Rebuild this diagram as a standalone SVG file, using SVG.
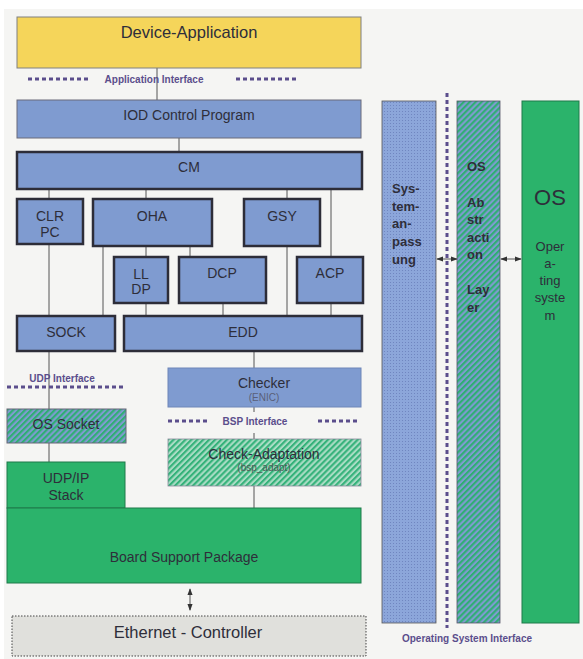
<svg xmlns="http://www.w3.org/2000/svg" width="583" height="659" viewBox="0 0 583 659">
<defs>
<pattern id="hatchBlue" patternUnits="userSpaceOnUse" width="4.2" height="4.2" patternTransform="rotate(45)">
<rect width="4.2" height="4.2" fill="#7f9bd0"/>
<rect width="2.1" height="4.2" fill="#2fae73"/>
</pattern>
<pattern id="hatchLight" patternUnits="userSpaceOnUse" width="4.2" height="4.2" patternTransform="rotate(45)">
<rect width="4.2" height="4.2" fill="#a9dcc4"/>
<rect width="2.1" height="4.2" fill="#35b27a"/>
</pattern>
<pattern id="dotsBlue" patternUnits="userSpaceOnUse" width="3" height="3">
<rect width="3" height="3" fill="#8ca6da"/>
<rect width="1" height="1" fill="#7086c0"/>
</pattern>
<marker id="ah" viewBox="0 0 8 8" refX="7" refY="4" markerWidth="7" markerHeight="7" orient="auto-start-reverse" markerUnits="userSpaceOnUse">
<path d="M0,1 L8,4 L0,7 z" fill="#333"/>
</marker>
</defs>
<style>
text{font-family:"Liberation Sans",Arial,sans-serif;fill:#2e2e3a;text-anchor:middle}
.blue{fill:#7f9bd0}
.thick{fill:#7f9bd0;stroke:#2d2d38;stroke-width:2.5}
.green{fill:#2bb36b;stroke:#1e7a4a;stroke-width:1}
.conn line{stroke:#555;stroke-width:1}
.ifc{stroke:#5b4e8c;stroke-width:3;stroke-dasharray:4 3;fill:none}
.ifl{font-size:10px;font-weight:bold;fill:#5b4e8c}
.t14{font-size:14px}
.side{font-size:13px;font-weight:bold;text-anchor:start}
.arr{stroke:#333;stroke-width:1.3;marker-start:url(#ah);marker-end:url(#ah)}
</style>
<rect width="583" height="659" fill="#ffffff"/>
<rect x="4" y="9" width="579" height="650" fill="#f5f5f3"/>

<g class="conn">
<line x1="157" y1="68" x2="157" y2="100"/>
<line x1="179" y1="138" x2="179" y2="152"/>
<line x1="49" y1="189" x2="49" y2="199"/>
<line x1="146" y1="189" x2="146" y2="199"/>
<line x1="287" y1="189" x2="287" y2="199"/>
<line x1="331" y1="189" x2="331" y2="257"/>
<line x1="49" y1="244" x2="49" y2="316"/>
<line x1="103" y1="246" x2="103" y2="316"/>
<line x1="146" y1="246" x2="146" y2="257"/>
<line x1="190" y1="246" x2="190" y2="257"/>
<line x1="146" y1="303" x2="146" y2="316"/>
<line x1="223" y1="303" x2="223" y2="316"/>
<line x1="287" y1="246" x2="287" y2="316"/>
<line x1="331" y1="303" x2="331" y2="316"/>
<line x1="49" y1="351" x2="49" y2="409"/>
<line x1="49" y1="443" x2="49" y2="462"/>
<line x1="254" y1="351" x2="254" y2="368"/>
<line x1="254" y1="407" x2="254" y2="412"/>
<line x1="254" y1="433" x2="254" y2="439"/>
<line x1="254" y1="486" x2="254" y2="508"/>
<line class="arr" x1="190" y1="589" x2="190" y2="610"/>
<line class="arr" x1="437" y1="259" x2="457" y2="259"/>
<line class="arr" x1="501" y1="259" x2="521" y2="259"/>
</g>

<g id="device-application">
<rect x="17" y="17" width="344" height="51" fill="#f5d55a" stroke="#808080" stroke-width="1"/>
<text x="189" y="38" font-size="16.5">Device-Application</text>
</g>

<g id="application-interface">
<line class="ifc" x1="28" y1="79" x2="90" y2="79"/>
<line class="ifc" x1="236" y1="79" x2="298" y2="79"/>
<text class="ifl" x="154" y="83">Application Interface</text>
</g>

<g id="iod-control-program">
<rect x="17" y="100" width="344" height="38" class="blue" stroke="#6a6a7a" stroke-width="1"/>
<text x="189" y="120" class="t14">IOD Control Program</text>
</g>

<g id="cm">
<rect x="17" y="152" width="345" height="37" class="thick"/>
<text x="189" y="172" class="t14">CM</text>
</g>

<g id="clr-pc">
<rect x="17" y="199" width="66" height="45" class="thick"/>
<text x="50" y="221" class="t14">CLR</text>
<text x="50" y="237" class="t14">PC</text>
</g>

<g id="oha">
<rect x="93" y="199" width="119" height="47" class="thick"/>
<text x="152" y="221" class="t14">OHA</text>
</g>

<g id="gsy">
<rect x="244" y="199" width="76" height="47" class="thick"/>
<text x="282" y="221" class="t14">GSY</text>
</g>

<g id="lldp">
<rect x="114" y="257" width="54" height="46" class="thick"/>
<text x="141" y="279" class="t14">LL</text>
<text x="141" y="294" class="t14">DP</text>
</g>

<g id="dcp">
<rect x="179" y="257" width="87" height="46" class="thick"/>
<text x="222" y="278" class="t14">DCP</text>
</g>

<g id="acp">
<rect x="297" y="257" width="66" height="46" class="thick"/>
<text x="330" y="278" class="t14">ACP</text>
</g>

<g id="sock">
<rect x="17" y="316" width="98" height="35" class="thick"/>
<text x="66" y="337" class="t14">SOCK</text>
</g>

<g id="edd">
<rect x="124" y="316" width="238" height="35" class="thick"/>
<text x="243" y="337" class="t14">EDD</text>
</g>

<g id="udp-interface">
<text class="ifl" x="62" y="382">UDP Interface</text>
<line class="ifc" x1="7" y1="387" x2="126" y2="387"/>
</g>

<g id="checker">
<rect x="168" y="368" width="193" height="39" class="blue" stroke="#6f86b8" stroke-width="1"/>
<text x="264" y="388" font-size="14">Checker</text>
<text x="264" y="401" font-size="10" style="fill:#5a5f78">(ENIC)</text>
</g>

<g id="bsp-interface">
<line class="ifc" x1="168" y1="421" x2="210" y2="421"/>
<line class="ifc" x1="318" y1="421" x2="360" y2="421"/>
<text class="ifl" x="255" y="425">BSP Interface</text>
</g>

<g id="os-socket">
<rect x="7" y="409" width="119" height="34" fill="url(#hatchBlue)" stroke="#667" stroke-width="1"/>
<text x="66" y="429" class="t14">OS Socket</text>
</g>

<g id="check-adaptation">
<rect x="168" y="439" width="193" height="47" fill="url(#hatchLight)" stroke="#889" stroke-width="0.8"/>
<text x="264" y="459" class="t14">Check-Adaptation</text>
<text x="264" y="471" font-size="10" style="fill:#4a5a55">(bsp_adapt)</text>
</g>

<g id="udp-ip-stack">
<rect x="7" y="462" width="118" height="46" class="green"/>
<text x="66" y="483" class="t14">UDP/IP</text>
<text x="66" y="500" class="t14">Stack</text>
</g>

<g id="board-support-package">
<rect x="7" y="508" width="354" height="75" class="green"/>
<text x="184" y="562" class="t14">Board Support Package</text>
</g>

<g id="ethernet-controller">
<rect x="12" y="616" width="354" height="40" fill="#e0e0dc" stroke="#444" stroke-width="1" stroke-dasharray="1.5 1.5"/>
<text x="188" y="638" font-size="16.5">Ethernet - Controller</text>
</g>

<g id="systemanpassung">
<rect x="382" y="101" width="54" height="522" fill="url(#dotsBlue)" stroke="#555" stroke-width="0.8"/>
<text class="side" x="392" y="193">Sys-</text>
<text class="side" x="392" y="211">tem-</text>
<text class="side" x="392" y="228">an-</text>
<text class="side" x="392" y="246">pass</text>
<text class="side" x="392" y="264">ung</text>
</g>

<g id="operating-system-interface">
<line class="ifc" x1="447" y1="93" x2="447" y2="628"/>
<text class="ifl" x="467" y="642">Operating System Interface</text>
</g>

<g id="os-abstraction-layer">
<rect x="457" y="101" width="43" height="522" fill="url(#hatchBlue)" stroke="#556" stroke-width="0.8"/>
<text class="side" x="467" y="171">OS</text>
<text class="side" x="467" y="207">Ab</text>
<text class="side" x="467" y="224">str</text>
<text class="side" x="467" y="242">acti</text>
<text class="side" x="467" y="259">on</text>
<text class="side" x="467" y="294">Lay</text>
<text class="side" x="467" y="312">er</text>
</g>

<g id="os">
<rect x="522" y="101" width="57" height="522" class="green"/>
<text x="550" y="205" font-size="22">OS</text>
<text x="550" y="251" font-size="13">Oper</text>
<text x="550" y="268" font-size="13">a-</text>
<text x="550" y="285" font-size="13">ting</text>
<text x="550" y="302" font-size="13">syste</text>
<text x="550" y="320" font-size="13">m</text>
</g>
</svg>
